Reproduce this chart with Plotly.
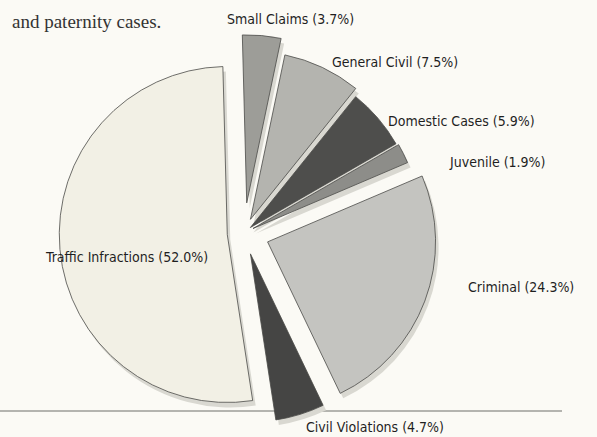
import plotly.graph_objects as go

# ---- data ----
categories = ["Small Claims", "General Civil", "Domestic Cases", "Juvenile",
              "Criminal", "Civil Violations", "Traffic Infractions"]
shares = [3.7, 7.5, 5.9, 1.9, 24.3, 4.7, 52.0]

# ---- styling ----
slice_colors = ["#9d9d98", "#b4b4af", "#4e4e4c", "#8d8d89", "#c4c4c0", "#454544", "#f2f0e5"]
pulls = [0.18, 0.09, 0.05, 0.06, 0.15, 0.13, 0.10]
BG = "#fbfaf5"
W, H = 597, 437

# pie geometry (pixels)
R = 168
cx, cy_top = 244, 233
half = R * (1 + max(pulls))
sdx, sdy = 3, 5  # shadow offset (px)


def dom(cxp, cyp):
    x = [(cxp - half) / W, (cxp + half) / W]
    y = [(H - cyp - half) / H, (H - cyp + half) / H]
    return dict(x=[max(0.0, x[0]), min(1.0, x[1])], y=[max(0.0, y[0]), min(1.0, y[1])])


fig = go.Figure()

# drop shadow
fig.add_trace(go.Pie(
    labels=categories, values=shares, sort=False, direction="clockwise",
    rotation=-1.5, pull=pulls, textinfo="none", hoverinfo="skip",
    marker=dict(colors=["#d9d8d1"] * len(shares), line=dict(width=0)),
    domain=dom(cx + sdx, cy_top + sdy),
    showlegend=False,
))

# main pie
fig.add_trace(go.Pie(
    labels=categories, values=shares, sort=False, direction="clockwise",
    rotation=-1.5, pull=pulls, textinfo="none",
    marker=dict(colors=slice_colors, line=dict(color="#4a4a48", width=0.8)),
    domain=dom(cx, cy_top),
    showlegend=False,
))

# slice labels (text built from the data)
label_pos = [(290, 19), (395, 62), (461, 121), (497, 162), (521, 287), (375, 427), (126, 257)]
label_font = dict(family="DejaVu Sans Condensed, Liberation Sans Narrow, Roboto, sans-serif",
                  size=14, color="#1f1f1f")
for name, val, (px, py) in zip(categories, shares, label_pos):
    fig.add_annotation(
        text=f"{name} ({val:.1f}%)", x=px / W, y=1 - py / H,
        xref="paper", yref="paper", xanchor="center", yanchor="middle",
        showarrow=False, font=label_font,
    )

# fragment of body text
fig.add_annotation(
    text="and paternity cases.", x=10 / W, y=1 - 22 / H, xref="paper", yref="paper",
    xanchor="left", yanchor="middle", showarrow=False,
    font=dict(family="Liberation Serif, DejaVu Serif, serif", size=19, color="#333333"),
)

# horizontal rule under the chart
fig.add_shape(type="line", xref="paper", yref="paper", x0=0, x1=562 / W,
              y0=1 - 411 / H, y1=1 - 411 / H, line=dict(color="#b4b4af", width=2), layer="below")

fig.update_layout(
    width=W, height=H, margin=dict(l=0, r=0, t=0, b=0),
    paper_bgcolor=BG, plot_bgcolor=BG,
)

fig.write_html("out.html", config={"displayModeBar": False},
               post_script="document.body.style.margin='0';")
